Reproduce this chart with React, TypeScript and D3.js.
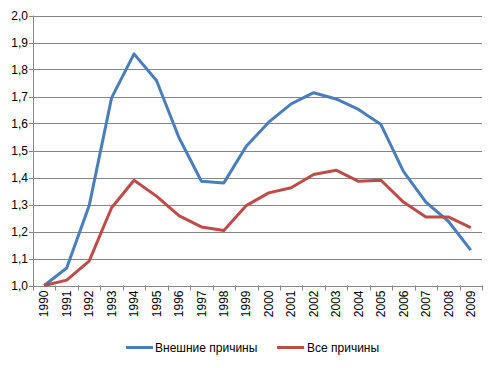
import React from "react";
import * as d3 from "d3";

const years = [
  "1990", "1991", "1992", "1993", "1994", "1995", "1996", "1997", "1998", "1999",
  "2000", "2001", "2002", "2003", "2004", "2005", "2006", "2007", "2008", "2009",
];

// Внешние причины
const externalValues = [
  1.0, 1.065, 1.295, 1.695, 1.858, 1.759, 1.548, 1.386, 1.38, 1.516,
  1.605, 1.673, 1.714, 1.691, 1.652, 1.596, 1.423, 1.309, 1.238, 1.131,
];

// Все причины
const allValues = [
  1.0, 1.02, 1.09, 1.288, 1.39, 1.331, 1.259, 1.217, 1.204, 1.296,
  1.343, 1.362, 1.411, 1.427, 1.386, 1.39, 1.309, 1.254, 1.254, 1.214,
];

const yTicks = [1.0, 1.1, 1.2, 1.3, 1.4, 1.5, 1.6, 1.7, 1.8, 1.9, 2.0];

const seriesNames = ["Внешние причины", "Все причины"];
const seriesColors = ["#4A7EBB", "#BE4B48"];

const W = 502;
const H = 368;
const left = 33;
const right = 482;
const top = 15.5;
const bottom = 285.5;
const font = "'Liberation Sans', Arial, sans-serif";

export default function App() {
  const x = d3.scaleBand<string>().domain(years).range([left, right]).paddingInner(0).paddingOuter(0);
  const y = d3.scaleLinear().domain([1, 2]).range([bottom, top]);
  const cx = (yr: string) => (x(yr) || 0) + x.bandwidth() / 2;

  const line = d3
    .line<number>()
    .x((_, i) => cx(years[i]))
    .y((d) => y(d));

  const series = [externalValues, allValues];
  const fmt = (v: number) => v.toFixed(1).replace(".", ",");

  // границы категорий для засечек оси X
  const bounds = years.map((yr) => x(yr) || 0).concat([right]);

  return (
    <svg
      width={W}
      height={H}
      style={{ position: "absolute", left: 0, top: 0, background: "#fff" }}
      fontFamily={font}
    >
      {/* сетка и подписи оси Y */}
      {yTicks.map((t) => (
        <g key={t}>
          <line x1={left} x2={right} y1={Math.round(y(t)) + 0.5} y2={Math.round(y(t)) + 0.5} stroke="#868686" strokeWidth={1} />
          <line x1={left - 4} x2={left} y1={Math.round(y(t)) + 0.5} y2={Math.round(y(t)) + 0.5} stroke="#868686" strokeWidth={1} />
          <text x={28} y={y(t)} dy="0.35em" textAnchor="end" fontSize={12} fill="#000">
            {fmt(t)}
          </text>
        </g>
      ))}
      {/* ось Y */}
      <line x1={left + 0.5} x2={left + 0.5} y1={top} y2={bottom + 1} stroke="#868686" />
      {/* засечки оси X */}
      {bounds.map((b, i) => (
        <line key={i} x1={Math.round(b) + 0.5} x2={Math.round(b) + 0.5} y1={bottom} y2={bottom + 5} stroke="#868686" />
      ))}
      {/* подписи оси X */}
      {years.map((yr) => (
        <text
          key={yr}
          transform={`translate(${cx(yr)},${bottom + 5}) rotate(-90)`}
          dy="0.35em"
          textAnchor="end"
          fontSize={12}
          fill="#000"
        >
          {yr}
        </text>
      ))}
      {/* линии */}
      {series.map((s, i) => (
        <path key={i} d={line(s) || ""} fill="none" stroke={seriesColors[i]} strokeWidth={3} strokeLinejoin="round" />
      ))}
      {/* легенда */}
      <g>
        <line x1={126} x2={153} y1={347.5} y2={347.5} stroke={seriesColors[0]} strokeWidth={3} />
        <text x={155} y={347.5} dy="0.35em" fontSize={12} fill="#000">
          {seriesNames[0]}
        </text>
        <line x1={277} x2={304} y1={347.5} y2={347.5} stroke={seriesColors[1]} strokeWidth={3} />
        <text x={307} y={347.5} dy="0.35em" fontSize={12} fill="#000">
          {seriesNames[1]}
        </text>
      </g>
    </svg>
  );
}
